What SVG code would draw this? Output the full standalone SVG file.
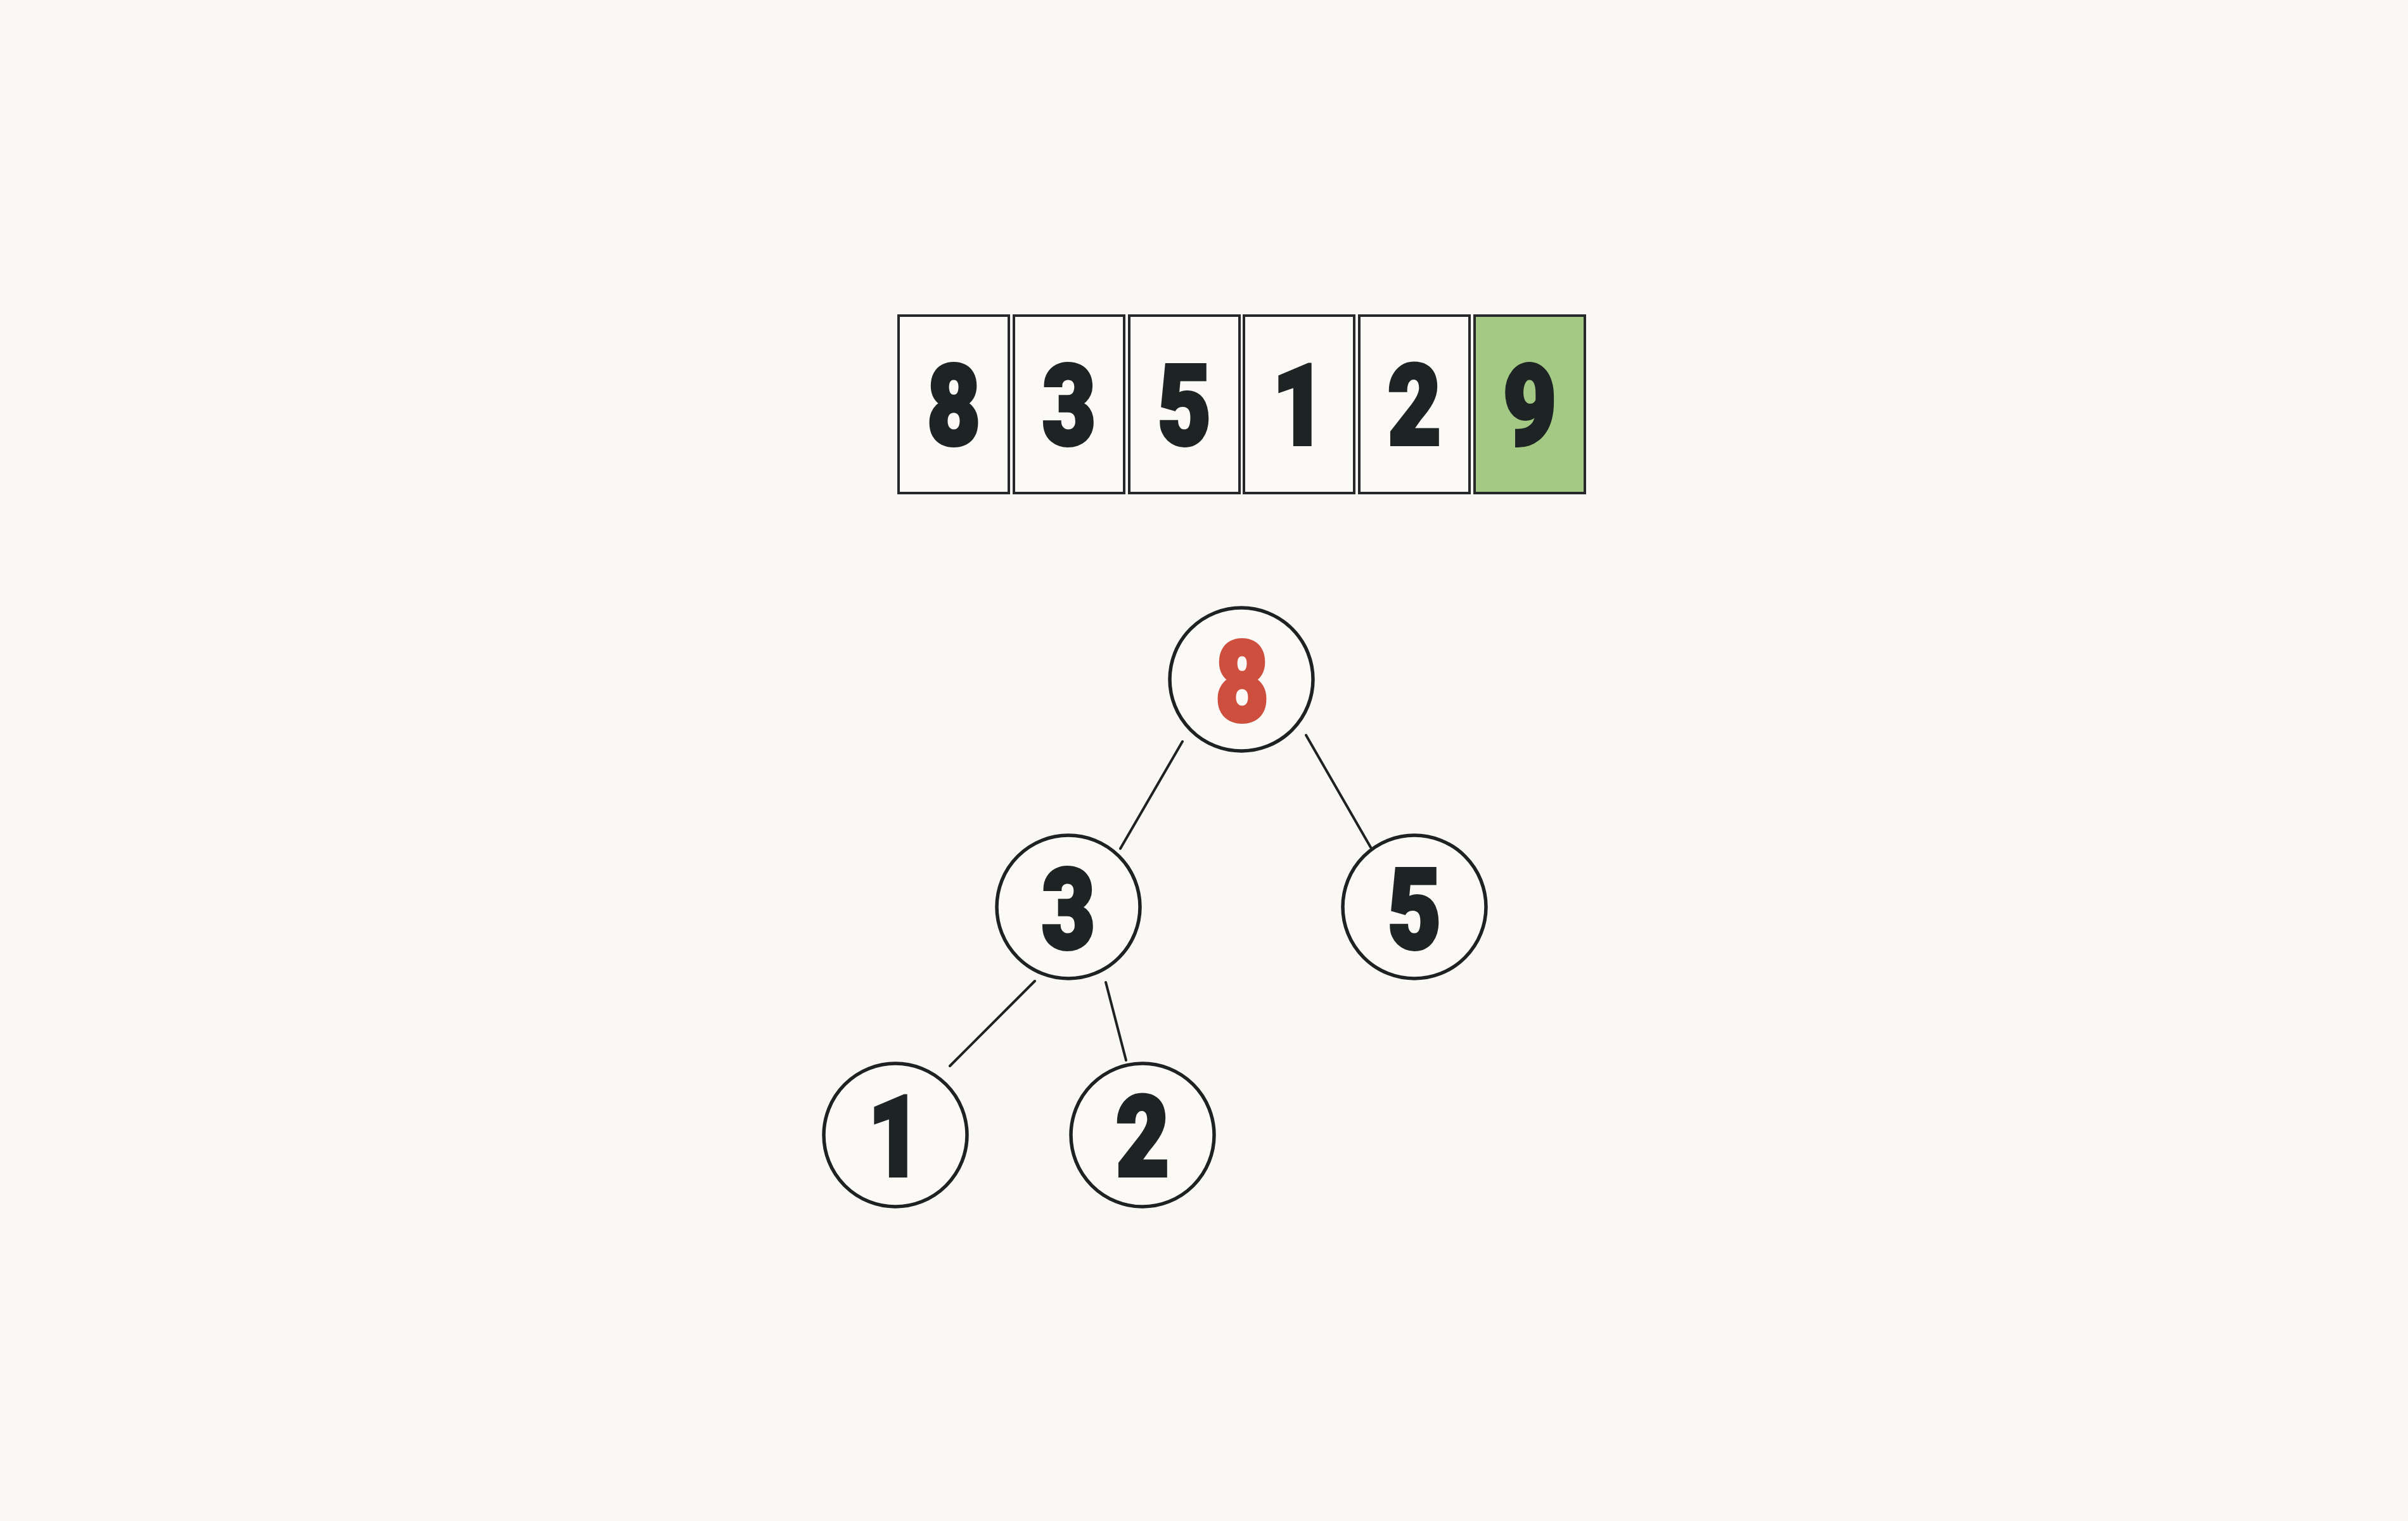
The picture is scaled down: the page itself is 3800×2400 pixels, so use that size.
<svg xmlns="http://www.w3.org/2000/svg" width="3800" height="2400" viewBox="0 0 3800 2400">
<style>
.bg{fill:#f9f8f4}
.box{fill:#fbfaf6;stroke:#262829;stroke-width:4}
.hl{fill:#a3c985}
.node{fill:#fbfaf6;stroke:#1f2223;stroke-width:5.5}
.edge{stroke:#1f2223;stroke-width:4;stroke-linecap:round;fill:none}
.d{font-family:Roboto,"Liberation Sans",sans-serif;font-weight:900;font-size:177px;fill:#1e2324;stroke:#1e2324;stroke-width:6;stroke-linejoin:miter;text-anchor:middle}
.red{fill:#cf4f3f;stroke:#cf4f3f}
</style>
<rect class="bg" x="0" y="0" width="3800" height="2400"/>
<g id="array">
<g id="cell-0"><rect class="box" x="1418" y="498" width="174" height="280"/><text class="d" transform="translate(1505,701) scale(0.82,1)">8</text></g>
<g id="cell-1"><rect class="box" x="1600" y="498" width="174" height="280"/><text class="d" transform="translate(1687,701) scale(0.82,1)">3</text></g>
<g id="cell-2"><rect class="box" x="1782" y="498" width="174" height="280"/><text class="d" transform="translate(1869,701) scale(0.82,1)">5</text></g>
<g id="cell-3"><rect class="box" x="1963" y="498" width="174" height="280"/><text class="d" transform="translate(2050,701) scale(0.82,1)">1</text></g>
<g id="cell-4"><rect class="box" x="2145" y="498" width="174" height="280"/><text class="d" transform="translate(2232,701) scale(0.82,1)">2</text></g>
<g id="cell-5"><rect class="box hl" x="2327" y="498" width="174" height="280"/><text class="d" transform="translate(2414,701) scale(0.82,1)">9</text></g>
</g>
<g id="edges">
<line class="edge" x1="1866" y1="1170" x2="1768" y2="1339"/>
<line class="edge" x1="2061" y1="1160" x2="2163" y2="1337"/>
<line class="edge" x1="1633" y1="1548" x2="1499" y2="1682"/>
<line class="edge" x1="1745" y1="1550" x2="1777" y2="1673"/>
</g>
<g id="node-8"><circle class="node" cx="1959" cy="1072" r="113"/><text class="d red" transform="translate(1960,1137) scale(0.82,1)">8</text></g>
<g id="node-3"><circle class="node" cx="1686" cy="1431" r="113"/><text class="d" transform="translate(1686,1496) scale(0.82,1)">3</text></g>
<g id="node-5"><circle class="node" cx="2232" cy="1431" r="113"/><text class="d" transform="translate(2232,1496) scale(0.82,1)">5</text></g>
<g id="node-1"><circle class="node" cx="1413" cy="1791" r="113"/><text class="d" transform="translate(1412,1855) scale(0.82,1)">1</text></g>
<g id="node-2"><circle class="node" cx="1803" cy="1791" r="113"/><text class="d" transform="translate(1803,1855) scale(0.82,1)">2</text></g>
</svg>
